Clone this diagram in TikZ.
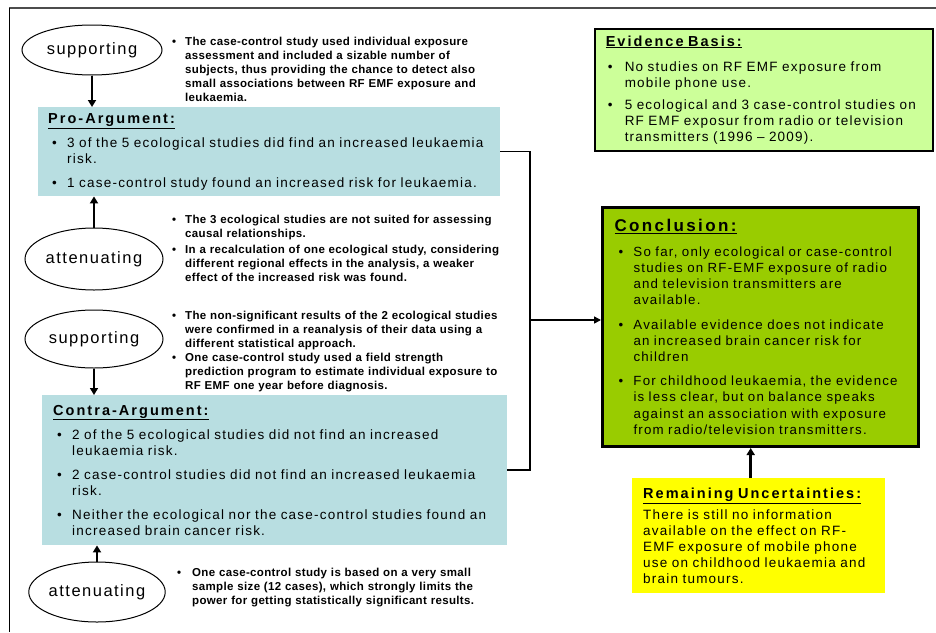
\documentclass[tikz,border=0pt]{standalone}
\usepackage{fontspec}
\setmainfont{Liberation Sans}
\newfontfamily\bodyfont[LetterSpace=9]{Liberation Sans}
\newfontfamily\headfont[LetterSpace=14]{Liberation Sans}
\newfontfamily\notefont[LetterSpace=3]{Liberation Sans}
\usetikzlibrary{shapes.geometric,arrows.meta,positioning}

\definecolor{argblue}{RGB}{184,222,225}
\definecolor{evgreen}{RGB}{204,255,153}
\definecolor{conclgreen}{RGB}{153,204,0}
\definecolor{uncyellow}{RGB}{255,255,0}

\newlength\bulind
\newlength\bulsh
\newcommand\bul[1]{\par\hangindent=\bulind\hangafter=1\noindent\makebox[\bulind][l]{\hspace{\bulsh}\textbullet}#1\par}
\newcommand\boxtitle[2][14.5]{{\headfont\bfseries\fontsize{#1}{18}\selectfont\underline{#2}\par}}

\begin{document}
\begin{tikzpicture}[x=1pt, y=-1pt,
    opinion/.style={ellipse, draw, line width=1pt, inner sep=0pt,
      font=\bodyfont\fontsize{16.5}{18}\selectfont},
    note/.style={anchor=north west, inner sep=0pt, text width=350pt,
      font=\notefont\bfseries\fontsize{11.5}{14}\selectfont,
      execute at begin node={\setlength\bulind{13pt}\setlength\bulsh{0pt}}},
    argbox/.style={anchor=north west, fill=argblue, inner xsep=10pt, inner ysep=0pt,
      font=\bodyfont\fontsize{13.5}{16}\selectfont,
      execute at begin node={\setlength\parskip{8pt}\setlength\bulind{19pt}\setlength\bulsh{4pt}}},
    push/.style={line width=2.5pt, -{Triangle[length=7pt,width=8pt]}},
    link/.style={line width=1.5pt}]

    \useasboundingbox (0,0) rectangle (936,632);

    % page frame
    \draw[black!70, line width=1.5pt] (9,8) -- (936,8);
    \draw[line width=1pt] (9,8) -- (9,632);

    % opinions on the left
    \node[opinion, minimum width=140pt, minimum height=50pt] (sup1) at (92,50) {supporting};
    \node[opinion, minimum width=138pt, minimum height=62pt] (att1) at (94,259) {attenuating};
    \node[opinion, minimum width=138pt, minimum height=58pt] (sup2) at (94,339) {supporting};
    \node[opinion, minimum width=135pt, minimum height=60pt] (att2) at (97,592) {attenuating};

    % notes beside the opinions
    \node[note] (n1) at (172,31) {%
      \bul{The case-control study used individual exposure\newline assessment and included a sizable number of\newline subjects, thus providing the chance to detect also\newline small associations between RF EMF exposure and\newline leukaemia.}};
    \node[note, execute at begin node={\setlength\parskip{2pt}}] (n2) at (172,207) {%
      \bul{The 3 ecological studies are not suited for assessing\newline causal relationships.}
      \bul{In a recalculation of one ecological study, considering\newline different regional effects in the analysis, a weaker\newline effect of the increased risk was found.}};
    \node[note] (n3) at (172,305) {%
      \bul{The non-significant results of the 2 ecological studies\newline were confirmed in a reanalysis of their data using a\newline different statistical approach.}
      \bul{One case-control study used a field strength\newline prediction program to estimate individual exposure to\newline RF EMF one year before diagnosis.}};
    \node[note, execute at begin node={\setlength\bulind{15pt}}] (n4) at (177,562) {%
      \bul{One case-control study is based on a very small\newline sample size (12 cases), which strongly limits the\newline power for getting statistically significant results.}};

    % argument boxes
    \node[argbox, text width=442pt, minimum height=89pt] (pro) at (38,107) {%
      \boxtitle{Pro-Argument:}
      \bul{3 of the 5 ecological studies did find an increased leukaemia\newline risk.}
      \bul{1 case-control study found an increased risk for leukaemia.}};
    \node[argbox, inner xsep=11pt, text width=443pt, minimum height=150pt] (contra) at (42,395) {%
      \boxtitle{Contra-Argument:}
      \bul{2 of the 5 ecological studies did not find an increased\newline leukaemia risk.}
      \bul{2 case-control studies did not find an increased leukaemia\newline risk.}
      \bul{Neither the ecological nor the case-control studies found an\newline increased brain cancer risk.}};

    % boxes on the right
    \node[argbox, fill=evgreen, draw, line width=1.5pt, inner xsep=11pt, text width=316pt,
      minimum height=122pt, execute at begin node={\setlength\parskip{6pt}\setlength\bulind{19pt}\setlength\bulsh{2pt}}] (evid) at (594,28) {%
      \boxtitle{Evidence Basis:}\vspace{3pt}
      \bul{No studies on RF EMF exposure from\newline mobile phone use.}
      \bul{5 ecological and 3 case-control studies on\newline RF EMF exposur from radio or television\newline transmitters (1996 – 2009).}};
    \node[argbox, fill=conclgreen, draw, line width=3pt, inner xsep=12pt, text width=292pt,
      minimum height=239pt, font=\bodyfont\fontsize{13.3}{16.2}\selectfont] (concl) at (601,206) {%
      \boxtitle[17]{Conclusion:}
      \bul{So far, only ecological or case-control\newline studies on RF-EMF exposure of radio\newline and television transmitters are\newline available.}
      \bul{Available evidence does not indicate\newline an increased brain cancer risk for\newline children}
      \bul{For childhood leukaemia, the evidence\newline is less clear, but on balance speaks\newline against an association with exposure\newline from radio/television transmitters.}};
    \node[argbox, fill=uncyellow, inner xsep=11pt, text width=231pt, minimum height=115pt,
      execute at begin node={\setlength\parskip{5pt}}] (unc) at (632,478) {%
      \boxtitle{Remaining Uncertainties:}
      \noindent There is still no information\newline available on the effect on RF-\newline EMF exposure of mobile phone\newline use on childhood leukaemia and\newline brain tumours.};

    % arrows from the opinions
    \draw[push] (sup1.south) -- (sup1.south |- pro.north);
    \draw[push] (att1.north) -- (att1.north |- pro.south);
    \draw[push, line width=1.5pt] (sup2.south) -- (sup2.south |- contra.north);
    \draw[push] (att2.north) -- (att2.north |- contra.south);

    % both arguments lead to the conclusion
    \coordinate (join) at (530,320);
    \draw[link] (pro.east) -| (join);
    \draw[link] (contra.east) -| (join);
    \draw[link, -{Triangle[length=7pt,width=7pt]}] (join) -- (join -| concl.west);
    \draw[push] ([xshift=-8pt]unc.north) -- ([xshift=-8pt]unc.north |- concl.south);

\end{tikzpicture}
\end{document}
